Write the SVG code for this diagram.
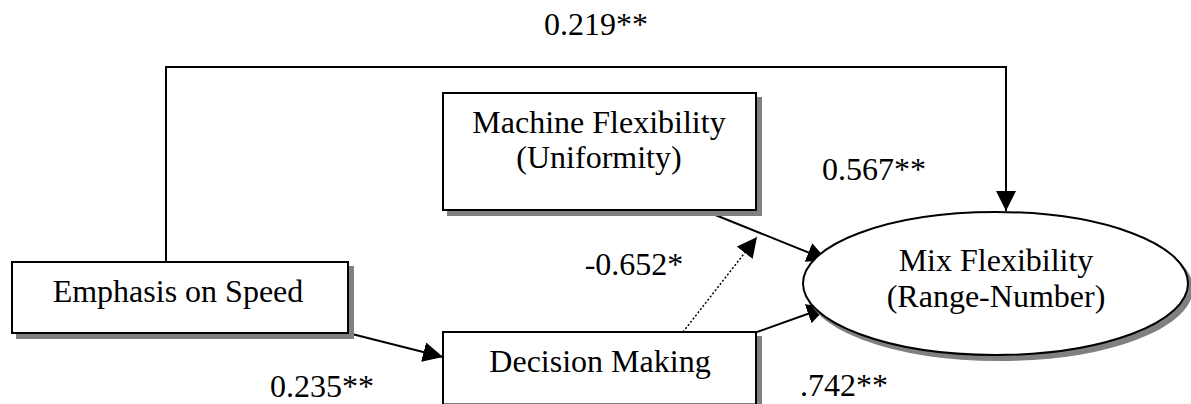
<svg xmlns="http://www.w3.org/2000/svg" width="1191" height="404" viewBox="0 0 1191 404">
  <style>
    text { font-family: "Liberation Serif", "Times New Roman", serif; font-size: 32px; fill: #000; }
    .mid { text-anchor: middle; }
    .box { fill: #fff; stroke: #000; stroke-width: 2; }
    .shadow { fill: #808080; stroke: #808080; stroke-width: 2; }
    .link { fill: none; stroke: #000; stroke-width: 2; }
    .dotted { fill: none; stroke: #000; stroke-width: 1.5; stroke-dasharray: 2 2; }
  </style>
  <defs>
    <marker id="arrow" markerUnits="userSpaceOnUse" markerWidth="20" markerHeight="20" refX="20" refY="10" orient="auto">
      <path d="M0,0 L20,10 L0,20 Z" fill="#000"/>
    </marker>
  </defs>
  <rect width="1191" height="404" fill="#fff"/>

  <!-- connectors -->
  <g id="connectors">
    <polyline class="link" points="166,262 166,67 1006,67 1006,211" marker-end="url(#arrow)"/>
    <line class="link" x1="348" y1="333" x2="443" y2="357" marker-end="url(#arrow)"/>
    <line class="link" x1="708" y1="212" x2="827" y2="260" marker-end="url(#arrow)"/>
    <line class="link" x1="757" y1="332" x2="827" y2="307" marker-end="url(#arrow)"/>
    <line class="dotted" x1="683" y1="332" x2="757" y2="237" marker-end="url(#arrow)"/>
  </g>

  <!-- path coefficients -->
  <g id="labels">
    <text class="mid" x="596" y="35">0.219**</text>
    <text class="mid" x="874" y="180">0.567**</text>
    <text class="mid" x="634" y="275">-0.652*</text>
    <text class="mid" x="322" y="397">0.235**</text>
    <text class="mid" x="844" y="396">.742**</text>
  </g>

  <g id="machine-flexibility">
    <rect class="shadow" x="448" y="98" width="313" height="117"/>
    <rect class="box" x="443" y="93" width="313" height="117"/>
    <text class="mid"><tspan x="599" y="133">Machine Flexibility</tspan><tspan x="599" y="168">(Uniformity)</tspan></text>
  </g>

  <g id="emphasis-on-speed">
    <rect class="shadow" x="17" y="267" width="336" height="71"/>
    <rect class="box" x="12" y="262" width="336" height="71"/>
    <text class="mid" x="178" y="302">Emphasis on Speed</text>
  </g>

  <g id="decision-making">
    <rect class="shadow" x="448" y="337" width="313" height="72.5"/>
    <rect class="box" x="443" y="332" width="313" height="72.5"/>
    <text class="mid" x="600" y="372">Decision Making</text>
  </g>

  <g id="mix-flexibility">
    <ellipse class="shadow" cx="999.5" cy="288.5" rx="192.5" ry="71.5"/>
    <ellipse class="box" cx="995.5" cy="283.5" rx="192.5" ry="71.5"/>
    <text class="mid"><tspan x="996" y="271">Mix Flexibility</tspan><tspan x="996" y="307">(Range-Number)</tspan></text>
  </g>
</svg>
